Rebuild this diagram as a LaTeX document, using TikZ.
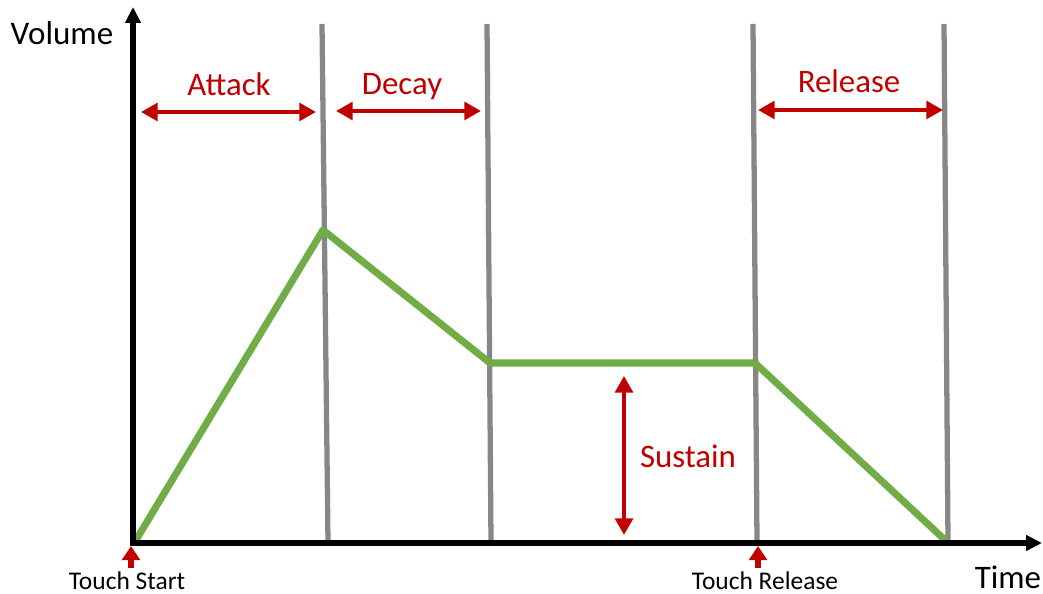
\documentclass[tikz,border=0pt]{standalone}
\usepackage{fontspec}
\setmainfont{Carlito}
\usepackage{tikz}
\usetikzlibrary{arrows.meta}
\definecolor{darkred}{RGB}{192,0,0}
\definecolor{envgreen}{RGB}{112,173,71}
\definecolor{phasegray}{RGB}{135,135,135}

\begin{document}
\begin{tikzpicture}[x=0.02cm,y=0.02cm,
        phase/.style={line width=3pt,color=phasegray},
        span/.style={line width=2.8pt,color=darkred,{Triangle[length=9.5pt,width=10pt]}-{Triangle[length=9.5pt,width=10pt]}},
        touchmark/.style={line width=3pt,color=darkred,-{Triangle[length=8pt,width=10pt]}},
        axis/.style={line width=3.2pt,-{Triangle[length=9pt,width=8.5pt]}},
        redlabel/.style={color=darkred,font=\fontsize{18.7}{22}\selectfont},
        small/.style={inner sep=0pt,font=\fontsize{14.5}{17}\selectfont}]
        \useasboundingbox (0,0) rectangle (1043,594);
        % phase borders
        \coordinate (a1) at (322,570); \coordinate (b1) at (328,51);
        \coordinate (a2) at (487,570); \coordinate (b2) at (491,51);
        \coordinate (a3) at (753,570); \coordinate (b3) at (757,51);
        \coordinate (a4) at (944,570); \coordinate (b4) at (948,51);
        \foreach \i in {1,...,4}
            \draw[phase] (a\i) -- (b\i);
        % envelope
        \coordinate (start) at (136,54);
        \coordinate (peak) at (323,364);
        \coordinate (sus1) at (490,231);
        \coordinate (sus2) at (755,231);
        \coordinate (stop) at (945,54);
        \draw[line width=4pt,color=envgreen,line join=round] (start) -- (peak) -- (sus1) -- (sus2) -- (stop);
        % axes
        \coordinate (origin) at (133,51);
        \coordinate (ytop) at (133,587);
        \coordinate (xend) at (1042,51);
        \draw[axis] (origin) -- (ytop);
        \draw[axis] ([xshift=-1.6pt]origin) -- (xend);
        \node[font=\fontsize{18.8}{22}\selectfont] (volume) at (62,561) {Volume};
        \node[inner sep=0pt,font=\fontsize{18.7}{22}\selectfont] (time) at (1008,17) {Time};
        % phase spans
        \coordinate (att1) at (141,482); \coordinate (att2) at (316,482);
        \coordinate (dec1) at (336,483); \coordinate (dec2) at (481,483);
        \coordinate (rel1) at (758,484); \coordinate (rel2) at (943,484);
        \coordinate (sust1) at (624,218); \coordinate (sust2) at (624,59);
        \draw[span] (att1) -- (att2);
        \draw[span] (dec1) -- (dec2);
        \draw[span] (rel1) -- (rel2);
        \draw[span] (sust1) -- (sust2);
        \node[redlabel] (attack) at (229,510) {Attack};
        \node[redlabel] (decay) at (402,507) {Decay};
        \node[redlabel] (release) at (849,513) {Release};
        \node[redlabel] (sustain) at (688,138) {Sustain};
        % touch events
        \node[small] (tstart) at (127,13) {Touch Start};
        \node[small] (trelease) at (765,13) {Touch Release};
        \coordinate (ts1) at (131,26); \coordinate (ts2) at (131,48);
        \coordinate (tr1) at (758,26); \coordinate (tr2) at (758,48);
        \draw[touchmark] (ts1) -- (ts2);
        \draw[touchmark] (tr1) -- (tr2);
    \end{tikzpicture}
\end{document}
